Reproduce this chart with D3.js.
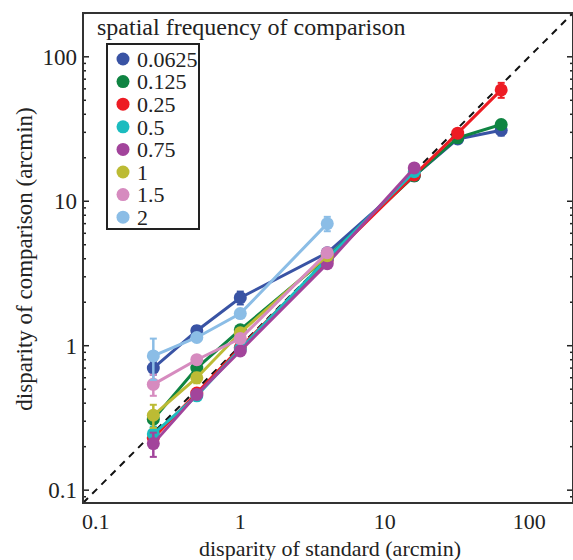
<!DOCTYPE html>
<html>
<head>
<meta charset="utf-8">
<script src="https://cdn.jsdelivr.net/npm/d3@7"></script>
<style>
  body { margin: 0; background: #fff; }
  text { font-family: "Liberation Serif", "Times New Roman", Times, "DejaVu Serif", serif; }
</style>
</head>
<body>
<svg id="chart" width="573" height="560"></svg>
<script>
// spatial frequency of comparison (legend)
const frequencies = ["0.0625", "0.125", "0.25", "0.5", "0.75", "1", "1.5", "2"];
const colors = ["#3953a4", "#0f8442", "#ed1c24", "#1bbcbf", "#a2449b", "#bcbb34", "#d68bbf", "#8bbde6"];

// disparity of standard (arcmin)
const standards = [0.25, 0.5, 1, 4, 16, 32, 64];

// disparity of comparison (arcmin), one array per frequency
const match0625 = [0.70, 1.27, 2.15, 4.4, 15.0, 27.0, 31.0];
const match125  = [0.31, 0.70, 1.29, 4.1, 15.0, 27.5, 34.0];
const match25   = [0.23, 0.47, 0.97, 3.9, 15.2, 29.6, 59.0];
const match5    = [0.245, 0.45, 0.95, 4.0, 16.0];
const match75   = [0.21, 0.46, 0.92, 3.7, 17.0];
const match1    = [0.33, 0.60, 1.23, 4.2];
const match15   = [0.54, 0.80, 1.12, 4.4];
const match2    = [0.85, 1.14, 1.67, 7.0];

// error (± arcmin)
const err0625 = [0.07, 0.10, 0.22, 0.3, 0.6, 1.2, 2.5];
const err125  = [0.04, 0.06, 0.08, 0.2, 0.6, 1.2, 2.0];
const err25   = [0.02, 0.03, 0.05, 0.2, 0.6, 1.5, 7.0];
const err5    = [0.03, 0.03, 0.05, 0.2, 0.6];
const err75   = [0.04, 0.03, 0.05, 0.2, 0.8];
const err1    = [0.06, 0.05, 0.08, 0.2];
const err15   = [0.09, 0.05, 0.05, 0.2];
const err2    = [0.27, 0.06, 0.08, 0.8];

const matches = [match0625, match125, match25, match5, match75, match1, match15, match2];
const errors = [err0625, err125, err25, err5, err75, err1, err15, err2];

const yTicks = [0.1, 1, 10, 100];
const xTicks = [0.1, 1, 10, 100];

const serif = '"Liberation Serif", "Times New Roman", Times, "DejaVu Serif", serif';

document.addEventListener('DOMContentLoaded', function () {
    drawChart();
});

function drawChart() {
    const svg = d3.select('#chart');
    const left = 83, right = 573, top = 13, bottom = 503;
    const domain = [0.0815, 201];

    const xScale = d3.scaleLog().domain(domain).range([left, right]);
    const yScale = d3.scaleLog().domain(domain).range([bottom, top]);

    const series = frequencies.map((f, i) => ({
        name: f,
        color: colors[i],
        points: matches[i].map((v, j) => ({ x: standards[j], y: v, e: errors[i][j] }))
    }));

    // identity line
    svg.append('line')
        .attr('x1', xScale(domain[0])).attr('y1', yScale(domain[0]))
        .attr('x2', xScale(domain[1])).attr('y2', yScale(domain[1]))
        .attr('stroke', '#111').attr('stroke-width', 2)
        .attr('stroke-dasharray', '7,6');

    // left and right axes with inward log ticks
    const logTicks = yScale.ticks();
    const isMajor = d => yTicks.includes(+d.toPrecision(3));
    const gl = svg.append('g').attr('transform', `translate(${left},0)`);
    gl.selectAll('line').data(logTicks).enter().append('line')
        .attr('x1', 0).attr('x2', d => isMajor(d) ? 6 : 3)
        .attr('y1', d => yScale(d)).attr('y2', d => yScale(d))
        .attr('stroke', '#222').attr('stroke-width', 1.5);
    const gr = svg.append('g').attr('transform', `translate(${right},0)`);
    gr.selectAll('line').data(logTicks).enter().append('line')
        .attr('x1', 0).attr('x2', d => isMajor(d) ? -6 : -3)
        .attr('y1', d => yScale(d)).attr('y2', d => yScale(d))
        .attr('stroke', '#222').attr('stroke-width', 1.5);

    // frame
    svg.append('rect')
        .attr('x', left).attr('y', top)
        .attr('width', right - left).attr('height', bottom - top)
        .attr('fill', 'none').attr('stroke', '#333').attr('stroke-width', 2);

    // tick labels
    svg.selectAll('text.ylab').data(yTicks).enter().append('text')
        .attr('x', left - 6).attr('y', d => yScale(d))
        .attr('dy', '0.35em').attr('text-anchor', 'end')
        .attr('font-family', serif).style('font-size', '23px').attr('fill', '#222')
        .text(d => d3.format('~g')(d));
    svg.selectAll('text.xlab').data(xTicks).enter().append('text')
        .attr('x', d => xScale(d)).attr('y', bottom + 26)
        .attr('text-anchor', 'middle')
        .attr('font-family', serif).style('font-size', '22px').attr('fill', '#222')
        .text(d => d3.format('~g')(d));

    // axis titles
    svg.append('text')
        .attr('x', 330).attr('y', 556)
        .attr('text-anchor', 'middle')
        .attr('font-family', serif).style('font-size', '22px').attr('fill', '#222')
        .text('disparity of standard (arcmin)');
    svg.append('text')
        .attr('transform', 'translate(32,259) rotate(-90)')
        .attr('text-anchor', 'middle')
        .attr('font-family', serif).style('font-size', '23px').attr('fill', '#222')
        .text('disparity of comparison (arcmin)');

    // series
    const line = d3.line().x(d => xScale(d.x)).y(d => yScale(d.y));
    const lo = d => yScale(Math.max(d.y - d.e, 0.01));
    const hi = d => yScale(d.y + d.e);
    series.forEach(s => {
        const g = svg.append('g');
        g.append('path').datum(s.points)
            .attr('d', line).attr('fill', 'none')
            .attr('stroke', s.color).attr('stroke-width', 3);
        g.selectAll('line.err').data(s.points).enter().append('line')
            .attr('x1', d => xScale(d.x)).attr('x2', d => xScale(d.x))
            .attr('y1', hi).attr('y2', lo)
            .attr('stroke', s.color).attr('stroke-width', 2.5);
        g.selectAll('line.capt').data(s.points).enter().append('line')
            .attr('x1', d => xScale(d.x) - 3.5).attr('x2', d => xScale(d.x) + 3.5)
            .attr('y1', hi).attr('y2', hi)
            .attr('stroke', s.color).attr('stroke-width', 2);
        g.selectAll('line.capb').data(s.points).enter().append('line')
            .attr('x1', d => xScale(d.x) - 3.5).attr('x2', d => xScale(d.x) + 3.5)
            .attr('y1', lo).attr('y2', lo)
            .attr('stroke', s.color).attr('stroke-width', 2);
        g.selectAll('circle').data(s.points).enter().append('circle')
            .attr('cx', d => xScale(d.x)).attr('cy', d => yScale(d.y))
            .attr('r', 6.5).attr('fill', s.color);
    });

    // legend
    svg.append('text')
        .attr('x', 97).attr('y', 35)
        .attr('font-family', serif).style('font-size', '24px').attr('fill', '#222')
        .text('spatial frequency of comparison');
    svg.append('rect')
        .attr('x', 107).attr('y', 44).attr('width', 92).attr('height', 185)
        .attr('fill', '#fff').attr('stroke', '#222').attr('stroke-width', 2);
    const lg = svg.selectAll('g.leg').data(series).enter().append('g')
        .attr('transform', (d, i) => `translate(123,${59 + i * 22.6})`);
    lg.append('circle').attr('r', 6.5).attr('fill', d => d.color);
    lg.append('text').attr('x', 14).attr('dy', '0.35em')
        .attr('font-family', serif).style('font-size', '22px').attr('fill', '#222')
        .text(d => d.name);
}
</script>
</body>
</html>
